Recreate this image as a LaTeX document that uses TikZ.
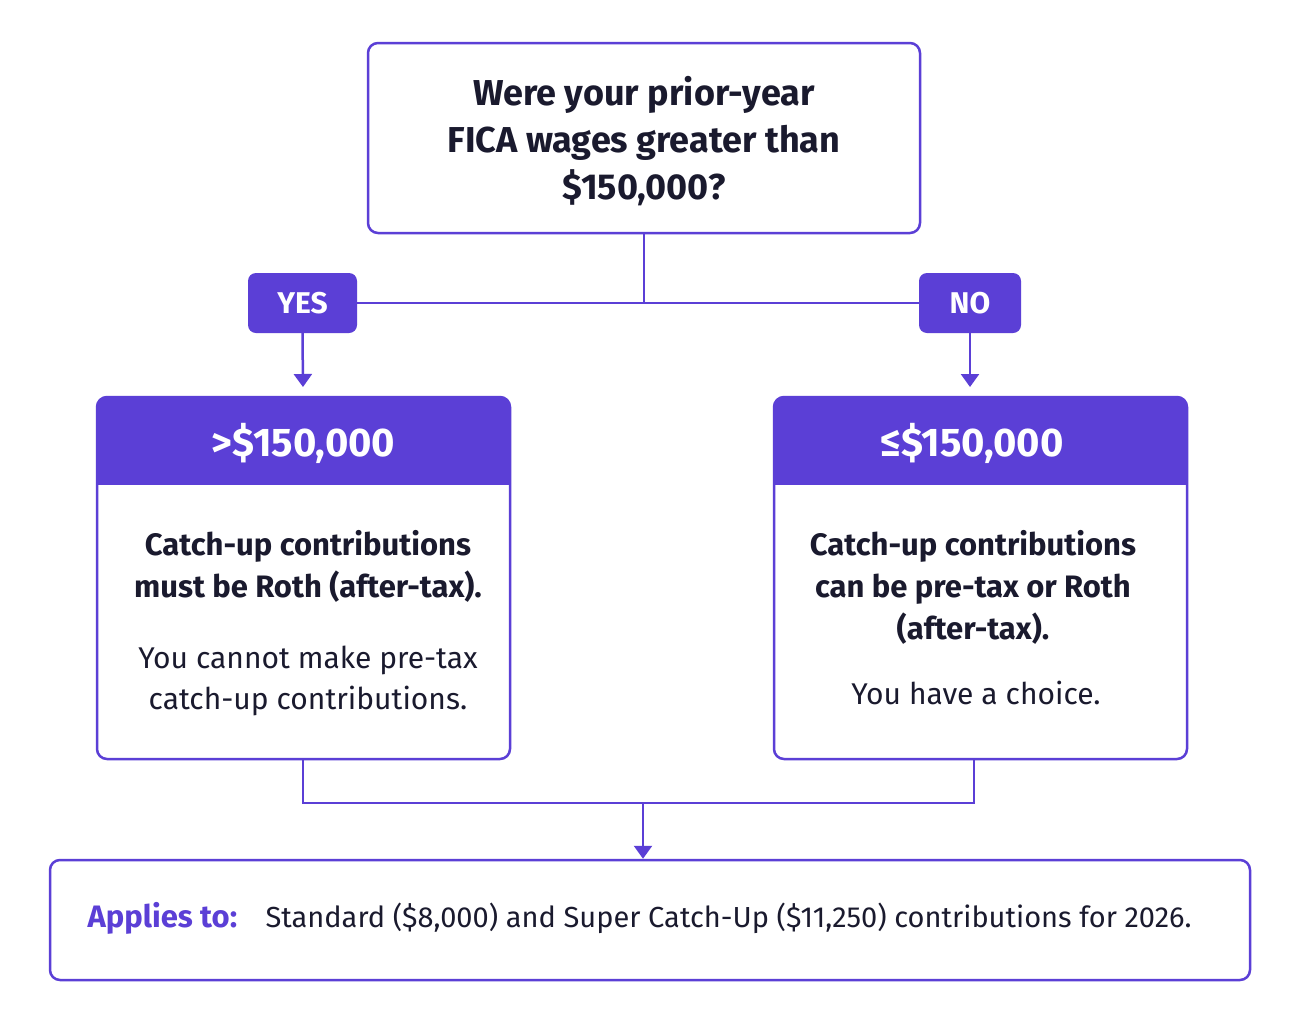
\documentclass[tikz,border=0pt]{standalone}
\usepackage{fontspec}
\setmainfont{Fira Sans}
\usetikzlibrary{arrows.meta}
\definecolor{pur}{HTML}{5B3FD6}
\definecolor{ink}{HTML}{1A1A2E}
\begin{document}
\begin{tikzpicture}[x=1pt,y=-1pt,
  box/.style={draw=pur,line width=2.5pt,rounded corners=10pt},
  lab/.style={fill=pur,rounded corners=8pt,text=white,font=\fontsize{30}{34}\selectfont\bfseries,inner sep=0pt},
  line/.style={draw=pur,line width=2.5pt},
  arr/.style={line,-{Triangle[width=18pt,length=13pt]}},
  bt/.style={text=ink,font=\fontsize{31}{42}\selectfont\bfseries,align=center},
  nt/.style={text=ink,font=\fontsize{30}{41}\selectfont,align=center}]
\useasboundingbox[fill=white] (0,0) rectangle (1299,1023);
% top
\node[box,minimum width=552pt,minimum height=190pt] (q) at (644,138) {};
\node[text=ink,font=\fontsize{36}{47}\selectfont\bfseries,align=center] (qt) at (644,141) {Were your prior-year\\FICA wages greater than\\\$150,000?};
\coordinate (j) at (644,303);
\draw[line] (q.south) -- (j);
\node[lab,minimum width=109pt,minimum height=60pt] (yes) at (302.5,303) {YES};
\node[lab,minimum width=102pt,minimum height=60pt] (no) at (970,303) {NO};
\draw[line] (yes.east) -- (no.west);
\draw[arr] (yes.south) -- (303,387);
\draw[arr] (no.south) -- (970,387);
% left box
\begin{scope}
\fill[pur,rounded corners=10pt] (97,397) rectangle (510,500);
\fill[white] (97,485) rectangle (510,505);
\end{scope}
\node[box,minimum width=413pt,minimum height=362pt] (l) at (303.5,578) {};
\node[text=white,font=\fontsize{40}{44}\selectfont\bfseries] (lh) at (303.5,443) {>\$150,000};
\node[bt] (lb) at (308,566) {Catch-up contributions\\must be Roth (after-tax).};
\node[nt] (ln) at (308,681) {You cannot make pre-tax\\catch-up contributions.};
% right box
\fill[pur,rounded corners=10pt] (774,397) rectangle (1187,500);
\fill[white] (774,485) rectangle (1187,505);
\node[box,minimum width=413pt,minimum height=362pt] (r) at (980.5,578) {};
\node[text=white,font=\fontsize{40}{44}\selectfont\bfseries] (rh) at (972,443) {≤\$150,000};
\node[bt] (rb) at (973,587) {Catch-up contributions\\can be pre-tax or Roth\\(after-tax).};
\node[nt] (rn) at (976,693) {You have a choice.};
% merge
\coordinate (m) at (643,803);
\draw[line] (303,759) -- (303,803) -- (974,803) -- (974,759);
\node[box,minimum width=1200pt,minimum height=120pt] (b) at (650,920) {};
\draw[arr] (m) -- (b.north -| m);
\node[anchor=west,text=pur,font=\fontsize{31}{36}\selectfont\bfseries] (ap) at (84,918) {Applies to:};
\node[anchor=west,text=ink,font=\fontsize{29}{34}\selectfont] (at) at (262,918) {Standard (\$8,000) and Super Catch-Up (\$11,250) contributions for 2026.};
\end{tikzpicture}
\end{document}
